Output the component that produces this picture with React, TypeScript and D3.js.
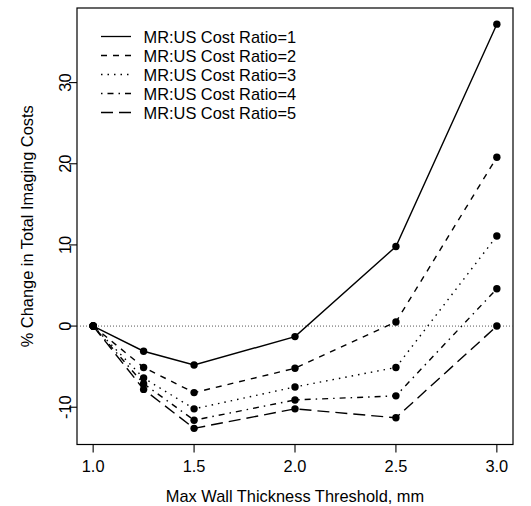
import * as d3 from 'd3';

// values
const thresholds = [1.0, 1.25, 1.5, 2.0, 2.5, 3.0];
const ratio1 = [0, -3.1, -4.8, -1.3, 9.8, 37.2];
const ratio2 = [0, -5.1, -8.2, -5.2, 0.5, 20.8];
const ratio3 = [0, -6.4, -10.2, -7.5, -5.1, 11.1];
const ratio4 = [0, -7.1, -11.6, -9.1, -8.6, 4.6];
const ratio5 = [0, -7.8, -12.6, -10.2, -11.3, 0];
const seriesLabels = [
  'MR:US Cost Ratio=1',
  'MR:US Cost Ratio=2',
  'MR:US Cost Ratio=3',
  'MR:US Cost Ratio=4',
  'MR:US Cost Ratio=5',
];
const xTicks = [1.0, 1.5, 2.0, 2.5, 3.0];
const yTicks = [-10, 0, 10, 20, 30];

// R lty 1..5
const dashes = ['', '6,6', '1.5,5', '1.5,5,6,5', '12,6'];

const W = 531;
const H = 506;
const box = { left: 77, right: 513, top: 8, bottom: 444.5 };
const font = '"Liberation Sans", Arial, sans-serif';
const fs = 16.4;

export default function App() {
  const series = [ratio1, ratio2, ratio3, ratio4, ratio5];
  const allY = series.flat();
  const yMin = d3.min(allY)!;
  const yMax = d3.max(allY)!;
  const yPad = (yMax - yMin) * 0.04;
  const xPad = (3 - 1) * 0.04;

  const x = d3.scaleLinear().domain([1 - xPad, 3 + xPad]).range([box.left, box.right]);
  const y = d3.scaleLinear().domain([yMin - yPad, yMax + yPad]).range([box.bottom, box.top]);

  const line = d3.line<number>()
    .x((d, i) => x(thresholds[i]))
    .y(d => y(d));

  return (
    <svg width={W} height={H} style={{ position: 'absolute', left: 0, top: 0, background: 'white' }}>
      <rect x={box.left} y={box.top} width={box.right - box.left} height={box.bottom - box.top}
        fill="none" stroke="black" strokeWidth={1.2} />
      <line x1={box.left} x2={box.right} y1={y(0)} y2={y(0)} stroke="#555" strokeWidth={1} strokeDasharray="1,2" />

      {series.map((s, k) => (
        <g key={k}>
          <path d={line(s) ?? ''} fill="none" stroke="black" strokeWidth={1.4} strokeDasharray={dashes[k]} />
          {s.map((v, i) => (
            <circle key={i} cx={x(thresholds[i])} cy={y(v)} r={3.7} fill="black" />
          ))}
        </g>
      ))}

      {/* x axis */}
      {xTicks.map(t => (
        <g key={t}>
          <line x1={x(t)} x2={x(t)} y1={box.bottom} y2={box.bottom + 8} stroke="black" strokeWidth={1.1} />
          <text x={x(t)} y={471.5} textAnchor="middle" fontFamily={font} fontSize={fs}>{t.toFixed(1)}</text>
        </g>
      ))}
      <text x={(box.left + box.right) / 2} y={502} textAnchor="middle" fontFamily={font} fontSize={fs}>
        Max Wall Thickness Threshold, mm
      </text>

      {/* y axis */}
      {yTicks.map(t => (
        <g key={t}>
          <line x1={box.left - 8} x2={box.left} y1={y(t)} y2={y(t)} stroke="black" strokeWidth={1.1} />
          <text transform={`translate(70.5,${y(t)}) rotate(-90)`} textAnchor="middle" fontFamily={font} fontSize={fs}>{t}</text>
        </g>
      ))}
      <text transform={`translate(33,${(box.top + box.bottom) / 2}) rotate(-90)`} textAnchor="middle"
        fontFamily={font} fontSize={fs}>% Change in Total Imaging Costs</text>

      {/* legend */}
      {seriesLabels.map((lab, k) => (
        <g key={lab} transform={`translate(0,${36.5 + k * 19})`}>
          <line x1={101} x2={131} y1={0} y2={0} stroke="black" strokeWidth={1.3} strokeDasharray={dashes[k]} />
          <text x={143.5} y={6.5} fontFamily={font} fontSize={fs}>{lab}</text>
        </g>
      ))}
    </svg>
  );
}
